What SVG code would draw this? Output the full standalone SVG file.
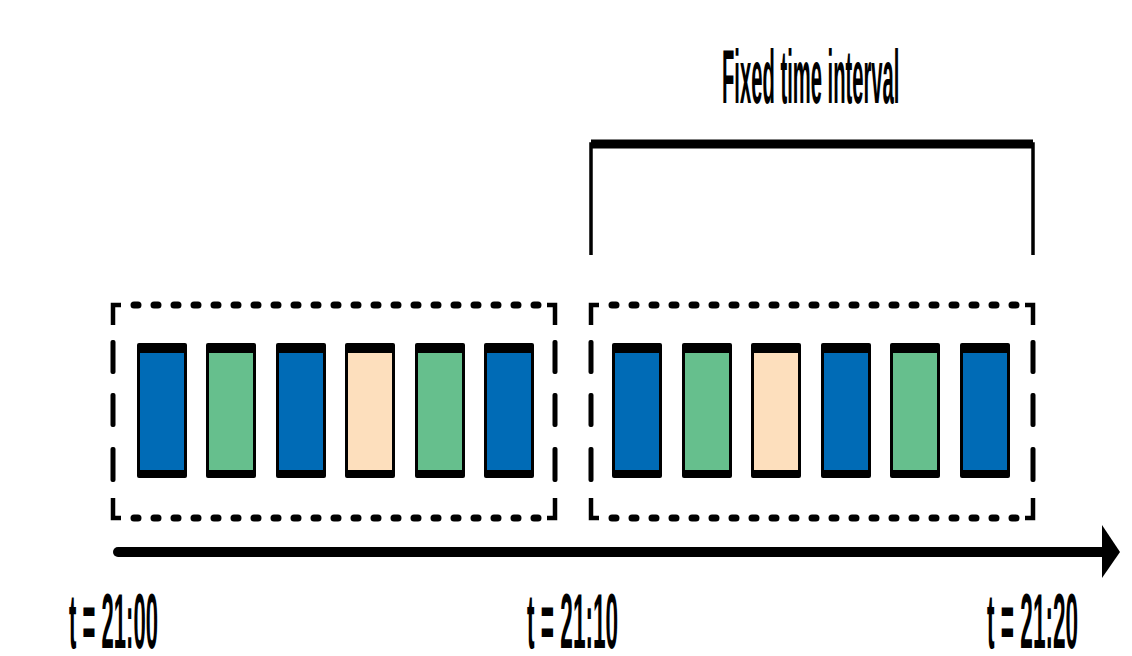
<svg xmlns="http://www.w3.org/2000/svg" width="1132" height="656" viewBox="0 0 1132 656">
<style>
.lbl{font-family:"Liberation Sans",Arial,sans-serif;font-weight:bold;fill:#000}
.blk{fill:#000}
.blue{fill:#006BB6}
.green{fill:#66BF8D}
.peach{fill:#FDDFBD}
.hd{fill:none;stroke:#000;stroke-width:7;stroke-linecap:round;stroke-dasharray:4 16}
.vd{fill:#000}
.cn{fill:none;stroke:#000;stroke-width:4.5}
</style>
<defs>
<rect id="cell" class="blk" x="0" y="0" width="50" height="135" rx="2"/>
<rect id="vdash" class="vd" x="-2.5" y="0" width="5" height="34" rx="2"/>
</defs>
<rect width="1132" height="656" fill="#fff"/>

<g id="window-1">
<path class="cn" d="M113,325 V305 H121 M555,325 V305 H547 M113,498 V518 H121 M555,498 V518 H547"/>
<line class="hd" x1="134" y1="305" x2="538" y2="305"/>
<line class="hd" x1="134" y1="518" x2="538" y2="518"/>
<rect class="vd" x="110.5" y="340" width="5" height="34" rx="2"/>
<rect class="vd" x="110.5" y="393" width="5" height="34" rx="2"/>
<rect class="vd" x="110.5" y="447" width="5" height="35" rx="2"/>
<rect class="vd" x="552.5" y="340" width="5" height="34" rx="2"/>
<rect class="vd" x="552.5" y="393" width="5" height="34" rx="2"/>
<rect class="vd" x="552.5" y="447" width="5" height="35" rx="2"/>
</g>
<g id="window-2">
<path class="cn" d="M591,325 V305 H599 M1033,325 V305 H1025 M591,498 V518 H599 M1033,498 V518 H1025"/>
<line class="hd" x1="612" y1="305" x2="1016" y2="305"/>
<line class="hd" x1="612" y1="518" x2="1016" y2="518"/>
<rect class="vd" x="588.5" y="340" width="5" height="34" rx="2"/>
<rect class="vd" x="588.5" y="393" width="5" height="34" rx="2"/>
<rect class="vd" x="588.5" y="447" width="5" height="35" rx="2"/>
<rect class="vd" x="1030.5" y="340" width="5" height="34" rx="2"/>
<rect class="vd" x="1030.5" y="393" width="5" height="34" rx="2"/>
<rect class="vd" x="1030.5" y="447" width="5" height="35" rx="2"/>
</g>

<g id="events-1">
<use href="#cell" x="137" y="343"/><rect class="blue" x="140" y="353" width="44" height="117"/>
<use href="#cell" x="206" y="343"/><rect class="green" x="209" y="353" width="44" height="117"/>
<use href="#cell" x="276" y="343"/><rect class="blue" x="279" y="353" width="44" height="117"/>
<use href="#cell" x="345" y="343"/><rect class="peach" x="348" y="353" width="44" height="117"/>
<use href="#cell" x="415" y="343"/><rect class="green" x="418" y="353" width="44" height="117"/>
<use href="#cell" x="484" y="343"/><rect class="blue" x="487" y="353" width="44" height="117"/>
</g>
<g id="events-2">
<use href="#cell" x="612" y="343"/><rect class="blue" x="615" y="353" width="44" height="117"/>
<use href="#cell" x="682" y="343"/><rect class="green" x="685" y="353" width="44" height="117"/>
<use href="#cell" x="751" y="343"/><rect class="peach" x="754" y="353" width="44" height="117"/>
<use href="#cell" x="821" y="343"/><rect class="blue" x="824" y="353" width="44" height="117"/>
<use href="#cell" x="890" y="343"/><rect class="green" x="893" y="353" width="44" height="117"/>
<use href="#cell" x="960" y="343"/><rect class="blue" x="963" y="353" width="44" height="117"/>
</g>

<g id="connectors">
<path d="M591,255 V144 H1033 V255" fill="none" stroke="#000" stroke-width="3.5"/>
<line x1="591" y1="144" x2="1033" y2="144" stroke="#000" stroke-width="9"/>
<line x1="118" y1="552" x2="1104" y2="552" stroke="#000" stroke-width="10" stroke-linecap="round"/>
<polygon points="1102,525 1120,552 1102,578" fill="#000"/>
</g>

<g id="labels">
<text class="lbl" font-size="76" transform="translate(722,103) scale(0.266,1)">Fixed time interval</text>
<text class="lbl" font-size="78" transform="translate(69,648) scale(0.283,1)">t = 21:00</text>
<text class="lbl" font-size="78" transform="translate(527,648) scale(0.29,1)">t = 21:10</text>
<text class="lbl" font-size="78" transform="translate(987,648) scale(0.29,1)">t = 21:20</text>
</g>
</svg>
